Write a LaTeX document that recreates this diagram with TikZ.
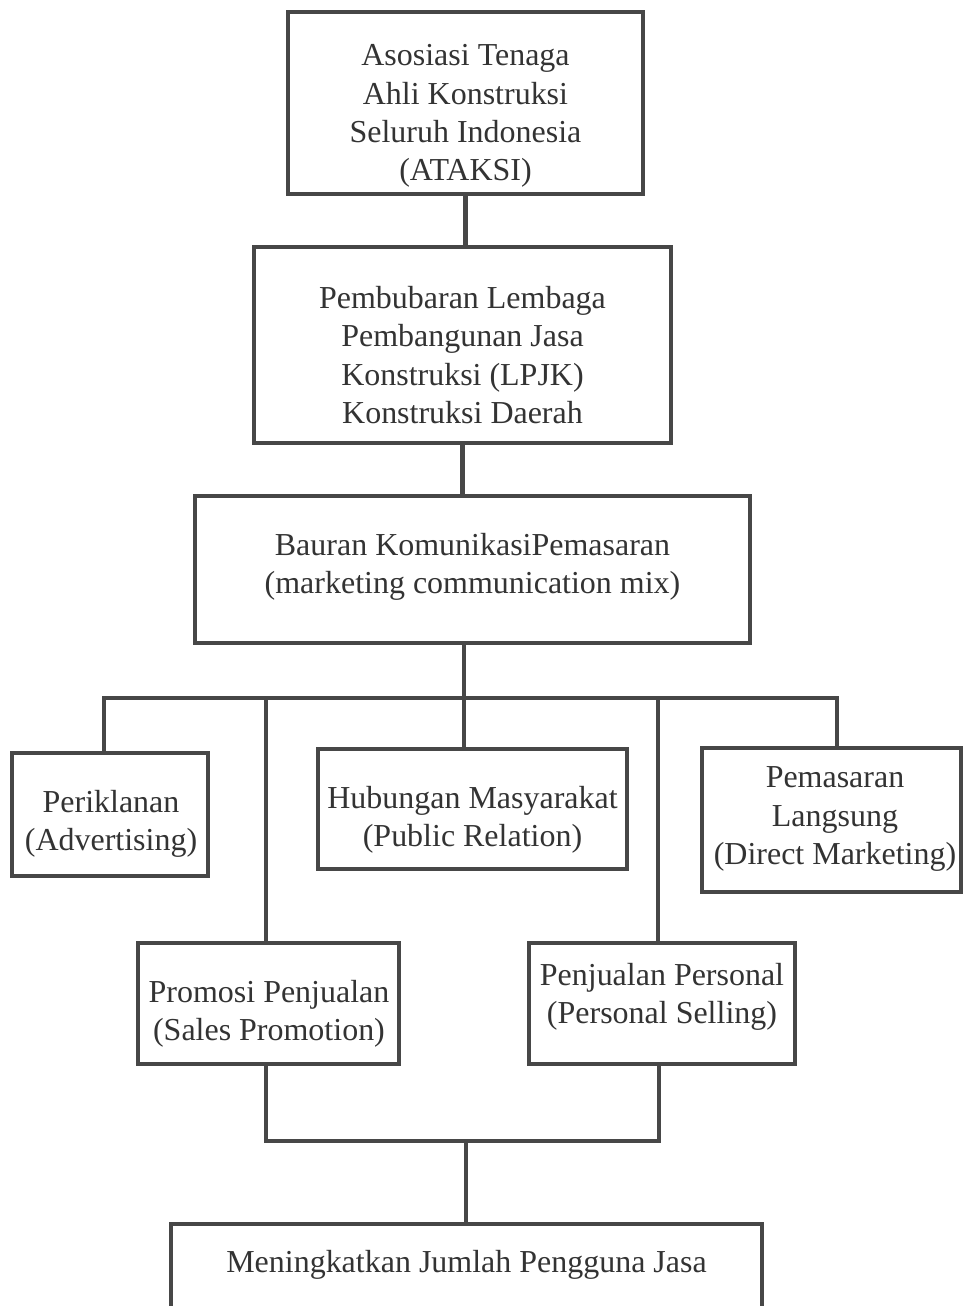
\documentclass[tikz,border=0pt]{standalone}
\usepackage{fontspec}
\setmainfont{Liberation Serif}
\colorlet{garis}{black!72}
\colorlet{tulis}{black!80}
\tikzset{
    kotak/.style={draw=garis,line width=2.3pt,inner sep=0pt,outer sep=0pt},
    teks/.style={align=center,text=tulis,inner sep=0pt,font={\fontsize{18.2pt}{21.8pt}\selectfont}},
    hubung/.style={garis,line width=2.4pt,line cap=rect}
}
\begin{document}
\begin{tikzpicture}[x=0.02cm,y=-0.02cm]
            \clip (0,0) rectangle (965,1306);
            \fill[white] (0,0) rectangle (965,1306);
            % kotak-kotak
            \node [kotak,minimum width=7.10cm,minimum height=3.64cm] (kA) at (465.5,103) {};
            \node [kotak,minimum width=8.34cm,minimum height=3.92cm] (kB) at (462.5,345) {};
            \node [kotak,minimum width=11.10cm,minimum height=2.94cm] (kC) at (472.5,569.5) {};
            \node [kotak,minimum width=3.92cm,minimum height=2.46cm] (kIkl) at (110,814.5) {};
            \node [kotak,minimum width=6.18cm,minimum height=2.40cm] (kHub) at (472.5,809) {};
            \node [kotak,minimum width=5.18cm,minimum height=2.88cm] (kPem) at (831.5,820) {};
            \node [kotak,minimum width=5.22cm,minimum height=2.42cm] (kPro) at (268.5,1003.5) {};
            \node [kotak,minimum width=5.32cm,minimum height=2.42cm] (kPen) at (662,1003.5) {};
            \node [kotak,minimum width=11.82cm,minimum height=2.52cm] (kBot) at (466.5,1287) {};
            % tulisan
            \node [teks] (tA) at (465.5,116) {Asosiasi Tenaga\\Ahli Konstruksi\\Seluruh Indonesia\\(ATAKSI)};
            \node [teks] (tB) at (462.5,355) {Pembubaran Lembaga\\Pembangunan Jasa\\Konstruksi (LPJK)\\Konstruksi Daerah};
            \node [teks] (tC) at (472.5,566.5) {Bauran KomunikasiPemasaran\\(marketing communication mix)};
            \node [teks] (tIkl) at (111,824) {Periklanan\\(Advertising)};
            \node [teks] (tHub) at (472.5,819.5) {Hubungan Masyarakat\\(Public Relation)};
            \node [teks] (tPem) at (835,819) {Pemasaran\\Langsung\\(Direct Marketing)};
            \node [teks] (tPro) at (269,1013.5) {Promosi Penjualan\\(Sales Promotion)};
            \node [teks] (tPen) at (662,996.5) {Penjualan Personal\\(Personal Selling)};
            \node [teks] (tBot) at (466.5,1265) {Meningkatkan Jumlah Pengguna Jasa};
            % garis penghubung
            \draw [hubung] (kA.south) -- (kA.south |- kB.north);
            \draw [hubung] (kB.south) -- (kB.south |- kC.north);
            \coordinate (pusat) at (464,698);
            \coordinate (b1) at (104,698);
            \coordinate (b2) at (266,698);
            \coordinate (b4) at (658,698);
            \coordinate (b5) at (837,698);
            \draw [hubung] (pusat |- kC.south) -- (pusat);
            \draw [hubung] (b1) -- (b5);
            \draw [hubung] (b1) -- (b1 |- kIkl.north);
            \draw [hubung] (b2) -- (b2 |- kPro.north);
            \draw [hubung] (pusat) -- (pusat |- kHub.north);
            \draw [hubung] (b4) -- (b4 |- kPen.north);
            \draw [hubung] (b5) -- (b5 |- kPem.north);
            \coordinate (gKiri) at (266,1141);
            \coordinate (gKanan) at (659,1141);
            \coordinate (gTengah) at (466,1141);
            \draw [hubung] (gKiri |- kPro.south) -- (gKiri) -- (gKanan) -- (gKanan |- kPen.south);
            \draw [hubung] (gTengah) -- (gTengah |- kBot.north);
\end{tikzpicture}
\end{document}
